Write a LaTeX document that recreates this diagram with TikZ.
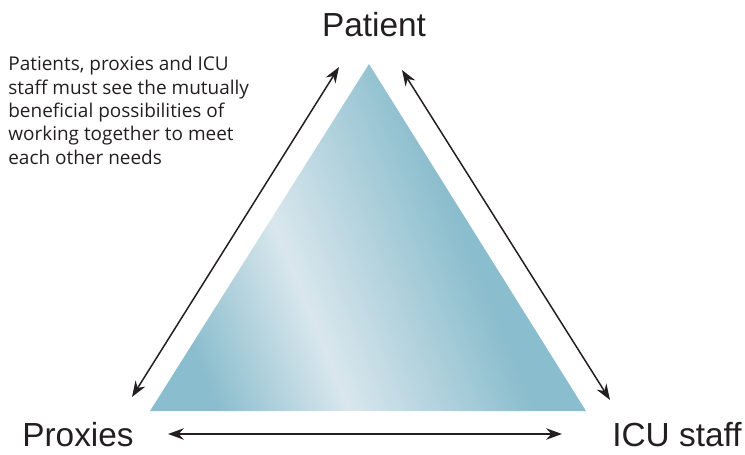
\documentclass[tikz,border=0pt]{standalone}
\usepackage{fontspec}
\setmainfont{Liberation Sans}
\newfontfamily\notefont{Open Sans}
\usetikzlibrary{arrows.meta}

\definecolor{inkgray}{RGB}{35,31,32}
\definecolor{tealblue}{RGB}{138,189,205}
\definecolor{paleblue}{RGB}{217,231,237}

% teal -- pale band -- teal, turned with a shading angle
\pgfdeclarehorizontalshading{triband}{100bp}{%
  color(0bp)=(tealblue); color(25bp)=(tealblue); color(40bp)=(paleblue);
  color(61bp)=(tealblue); color(100bp)=(tealblue)}

\tikzset{
  link/.style={{Stealth[length=9pt,width=6.5pt]}-{Stealth[length=9pt,width=6.5pt]},
    line width=0.85pt, inkgray},
  corner/.style={font=\fontsize{19}{22}\selectfont, inner sep=0pt, text=inkgray},
}

\begin{document}
\begin{tikzpicture}[x=0.02cm, y=0.02cm]
  \useasboundingbox (0,0) rectangle (745,454);

  % the triangle
  \coordinate (top) at (369,390);
  \coordinate (bl) at (150,43);
  \coordinate (br) at (586,43);
  \shade[shading=triband, shading angle=22] (top) -- (bl) -- (br) -- cycle;

  % corner labels
  \node[corner, anchor=base] (patient) at (374,418) {Patient};
  \node[corner, anchor=base west] (proxies) at (22,8) {Proxies};
  \node[corner, anchor=base west] (icu) at (612,8) {ICU staff};

  % note
  \node[anchor=north west, inner sep=0pt, align=left, text=inkgray,
    font=\notefont\fontsize{10.8}{13.3}\selectfont] (note) at (8,398)
    {Patients, proxies and ICU\\staff must see the mutually\\beneficial possibilities of\\working together to meet\\each other needs};

  % arrows along the sides
  \coordinate (l1) at (132,57);
  \coordinate (l2) at (339,387);
  \coordinate (r1) at (402,384);
  \coordinate (r2) at (610,54);
  \coordinate (b1) at (168,20);
  \coordinate (b2) at (562,20);
  \draw[link] (l1) -- (l2);
  \draw[link] (r1) -- (r2);
  \draw[link] (b1) -- (b2);
\end{tikzpicture}
\end{document}
